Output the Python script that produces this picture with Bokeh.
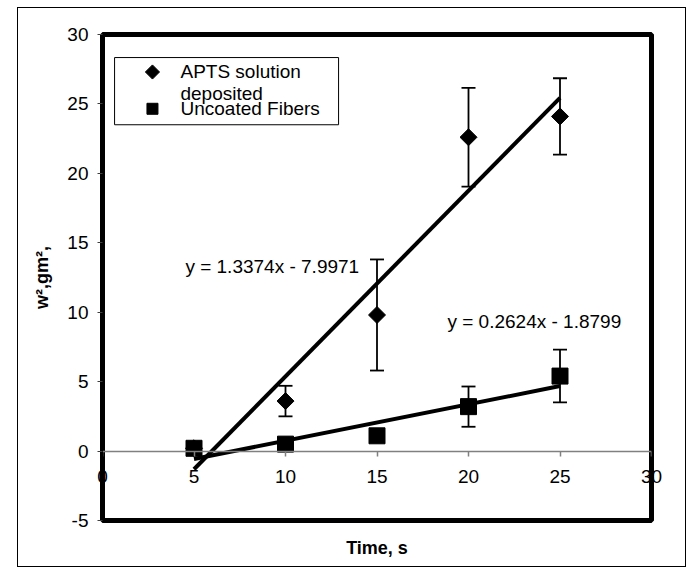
import math
from bokeh.plotting import figure
from bokeh.models import (Range1d, FixedTicker, LinearAxis, Whisker, ColumnDataSource,
                          TeeHead)
from bokeh.core.properties import value
from bokeh.embed import file_html
from bokeh.resources import INLINE

# ---- data ----
time_s = [5, 10, 15, 20, 25]
apts = [0.2, 3.6, 9.8, 22.6, 24.1]
apts_err = [0.0, 1.1, 4.0, 3.55, 2.75]
uncoated = [0.2, 0.5, 1.1, 3.2, 5.4]
uncoated_err = [0.0, 0.0, 0.0, 1.45, 1.9]
apts_fit = [1.3374, -7.9971]
uncoated_fit = [0.2624, -1.8799]
fit_x = [5, 25]
x_ticks = [0, 5, 10, 15, 20, 25, 30]
y_ticks = [-5, 0, 5, 10, 15, 20, 25, 30]
series_names = ["APTS solution", "deposited", "Uncoated Fibers"]

FONT = "Liberation Sans"
FS = "19px"

p = figure(width=669, height=560, x_range=Range1d(0, 30), y_range=Range1d(-5, 30),
           output_backend="svg", toolbar_location=None, x_axis_location=None,
           min_border_left=84, min_border_right=36, min_border_top=26, min_border_bottom=48)
p.margin = (7, 0, 0, 17)
p.styles = {"border": "1px solid black"}
p.grid.visible = False
p.background_fill_color = "white"
p.border_fill_color = "white"
p.outline_line_color = "black"
p.outline_line_width = 5

# x axis line + ticks crossing at y = 0
xa = LinearAxis(fixed_location=0, ticker=FixedTicker(ticks=x_ticks))
xa.axis_line_color = "#808080"
xa.axis_line_width = 1.5
xa.major_tick_out = 5
xa.major_tick_in = 0
xa.minor_tick_out = 0
xa.minor_tick_in = 0
xa.major_tick_line_color = "#808080"
xa.major_tick_line_width = 1.5
xa.major_label_text_color = None
p.add_layout(xa, "below")

# tick labels (pulled up next to the y = 0 line) and the axis title
xl = LinearAxis(ticker=FixedTicker(ticks=x_ticks), axis_label="Time, s")
xl.axis_line_color = None
xl.major_tick_out = 0
xl.major_tick_in = 0
xl.minor_tick_out = 0
xl.minor_tick_in = 0
xl.major_label_standoff = -51
xl.major_label_text_font = FONT
xl.major_label_text_font_size = FS
xl.major_label_text_color = "black"
xl.axis_label_standoff = 52
xl.axis_label_text_font = FONT
xl.axis_label_text_font_size = "18px"
xl.axis_label_text_font_style = "bold"
xl.axis_label_text_color = "black"
p.add_layout(xl, "below")

ya = p.yaxis[0]
ya.ticker = FixedTicker(ticks=y_ticks)
ya.major_label_overrides = {t: str(t) for t in y_ticks}
ya.axis_line_color = "black"
ya.major_tick_out = 5
ya.major_tick_in = 0
ya.minor_tick_out = 0
ya.minor_tick_in = 0
ya.major_tick_line_color = "#404040"
ya.major_label_standoff = 9
ya.major_label_text_font = FONT
ya.major_label_text_font_size = FS
ya.major_label_text_color = "black"
ya.axis_label = "w\u00b2,gm\u00b2,"
ya.axis_label_standoff = 12
ya.axis_label_text_font = FONT
ya.axis_label_text_font_size = "18px"
ya.axis_label_text_font_style = "bold"
ya.axis_label_text_color = "black"

# error bars
def err_source(xs, ys, es):
    bx, up, lo = [], [], []
    for x, y, e in zip(xs, ys, es):
        if e > 0:
            bx.append(x); up.append(y + e); lo.append(y - e)
    return ColumnDataSource(dict(base=bx, upper=up, lower=lo))

for ys, es in ((apts, apts_err), (uncoated, uncoated_err)):
    w = Whisker(source=err_source(time_s, ys, es), base="base", upper="upper", lower="lower",
                line_color="black", line_width=1.8,
                upper_head=TeeHead(size=14, line_width=1.8, line_color="black"),
                lower_head=TeeHead(size=14, line_width=1.8, line_color="black"))
    p.add_layout(w)

# markers
p.scatter(time_s, apts, marker="square", angle=math.pi / 4, size=12, color="black")
p.scatter(time_s, uncoated, marker="square", size=16, color="black")

# linear trend lines
for m, b in (apts_fit, uncoated_fit):
    p.line(fit_x, [m * x + b for x in fit_x], line_color="black", line_width=4)

def eq(fit):
    m, b = fit
    sign = "-" if b < 0 else "+"
    return f"y = {m:.4f}x {sign} {abs(b):.4f}"

p.text(x=[4.53, 18.85], y=[13.3, 9.3], text=[eq(apts_fit), eq(uncoated_fit)],
       text_font=value(FONT), text_font_size=FS, text_color="black",
       text_align="left", text_baseline="middle")

# legend box (drawn in data space of the fixed frame)
p.quad(left=[0.66], right=[12.9], top=[28.34], bottom=[23.5],
       fill_color="white", line_color="black", line_width=1)
p.scatter([2.73], [27.3], marker="square", angle=math.pi / 4, size=10, color="black")
p.scatter([2.73], [24.65], marker="square", size=11, color="black")
p.text(x=[4.26, 4.26, 4.26], y=[27.3, 25.72, 24.65], text=series_names,
       text_font=value(FONT), text_font_size=FS, text_color="black",
       text_align="left", text_baseline="middle")

open("out.html", "w").write(file_html(p, INLINE))
